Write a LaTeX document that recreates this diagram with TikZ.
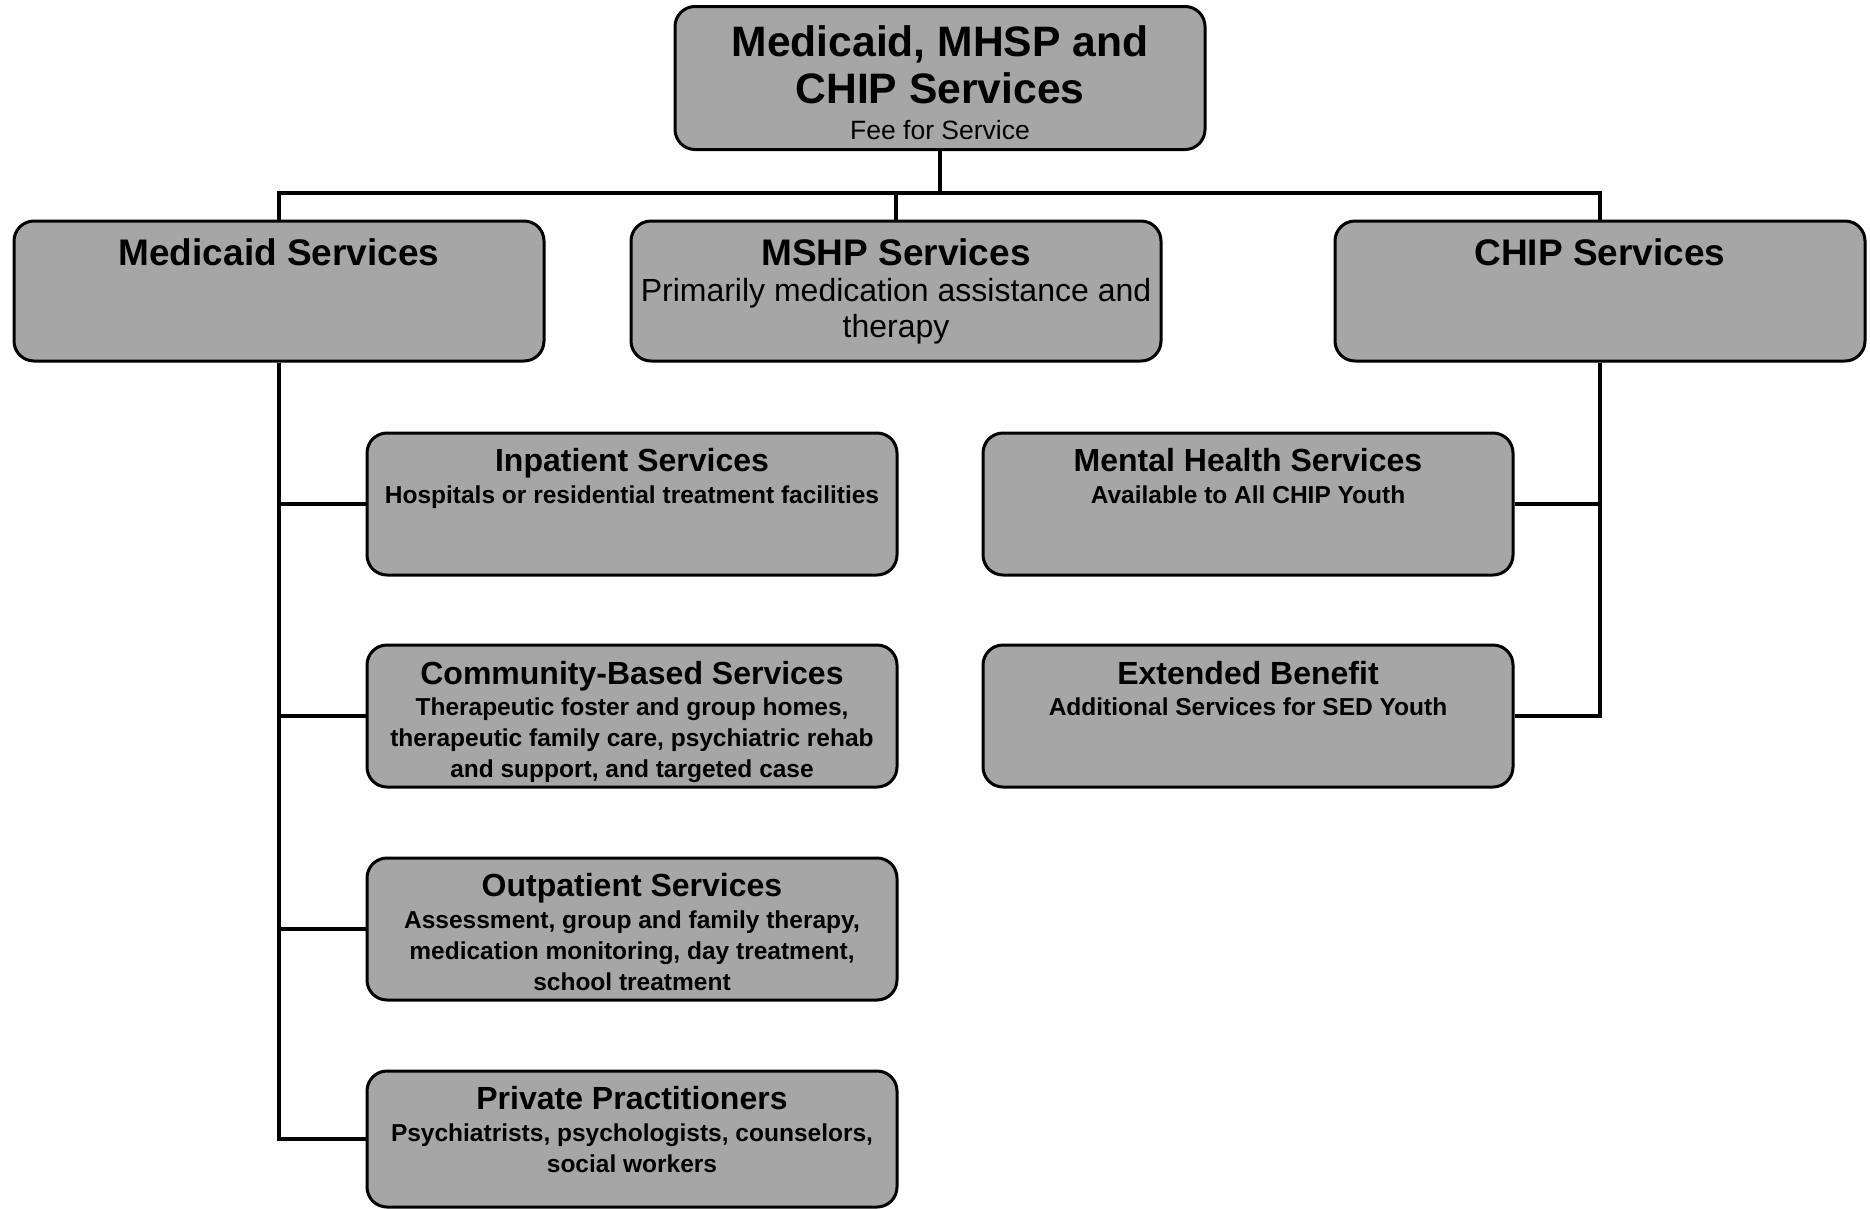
\documentclass[tikz,border=0pt]{standalone}
\usepackage{fontspec}
\setmainfont{Liberation Sans}
\usetikzlibrary{positioning}
\tikzset{
  svcbox/.style={draw=black, line width=3pt, fill=black!35, rounded corners=20pt,
    minimum width=530pt, minimum height=#1, inner sep=0pt},
  svcbox/.default=142pt,
  toptxt/.style={align=center, inner sep=0pt, font=\fontsize{42.6}{47}\selectfont\bfseries},
  midtxt/.style={align=center, inner sep=0pt, font=\fontsize{32}{36}\selectfont},
  lowtxt/.style={align=center, inner sep=0pt, font=\fontsize{24.5}{31}\selectfont\bfseries},
  link/.style={line width=4pt},
}
\newcommand{\midhead}{\fontsize{37}{40}\selectfont\bfseries}
\newcommand{\lowhead}{\fontsize{32}{34}\selectfont}
\begin{document}
\begin{tikzpicture}[x=1pt,y=-1pt]
\useasboundingbox (0,0) rectangle (1870,1208);
\node[svcbox=143pt] (top) at (940,78) {};
\node[svcbox=140pt] (medicaid) at (279,291) {};
\node[svcbox=140pt] (mshp) at (896,291) {};
\node[svcbox=140pt] (chip) at (1600,291) {};
\node[svcbox] (inpat) at (632,504) {};
\node[svcbox] (community) at (632,716) {};
\node[svcbox] (outpat) at (632,929) {};
\node[svcbox=136pt] (private) at (632,1139) {};
\node[svcbox] (mental) at (1248,504) {};
\node[svcbox] (extended) at (1248,716) {};

\node[toptxt, below=20pt of top.north] (topT) {Medicaid, MHSP and\\CHIP Services\\[-11pt]{\mdseries\fontsize{26.5}{30}\selectfont Fee for Service}};
\node[midtxt, below=19pt of medicaid.north] (medicaidT) {{\midhead Medicaid Services}};
\node[midtxt, below=19pt of mshp.north] (mshpT) {{\midhead MSHP Services}\\[0pt]Primarily medication assistance and\\therapy};
\node[midtxt, below=19pt of chip.north] (chipT) {{\midhead CHIP Services}};
\node[lowtxt, below=17pt of inpat.north] (inpatT) {{\lowhead Inpatient Services}\\[1pt]Hospitals or residential treatment facilities};
\node[lowtxt, below=18pt of community.north] (communityT) {{\lowhead Community-Based Services}\\[0pt]Therapeutic foster and group homes,\\therapeutic family care, psychiatric rehab\\and support, and targeted case};
\node[lowtxt, below=17pt of outpat.north] (outpatT) {{\lowhead Outpatient Services}\\[1pt]Assessment, group and family therapy,\\medication monitoring, day treatment,\\school treatment};
\node[lowtxt, below=17pt of private.north] (privateT) {{\lowhead Private Practitioners}\\[1pt]Psychiatrists, psychologists, counselors,\\social workers};
\node[lowtxt, below=17pt of mental.north] (mentalT) {{\lowhead Mental Health Services}\\[1pt]Available to All CHIP Youth};
\node[lowtxt, below=18pt of extended.north] (extendedT) {{\lowhead Extended Benefit}\\[0pt]Additional Services for SED Youth};

\coordinate (bus) at (940,193);
\draw[link] (top.south) -- (top.south |- bus);
\draw[link] (medicaid.north) |- (bus) -| (chip.north);
\draw[link] (mshp.north) -- (mshp.north |- bus);
\draw[link] (medicaid.south) |- (private.west);
\foreach \n in {inpat,community,outpat}
  \draw[link] (\n.west) -- (\n.west -| medicaid.south);
\draw[link] (chip.south) |- (extended.east);
\draw[link] (mental.east) -- (mental.east -| chip.south);
\end{tikzpicture}
\end{document}
